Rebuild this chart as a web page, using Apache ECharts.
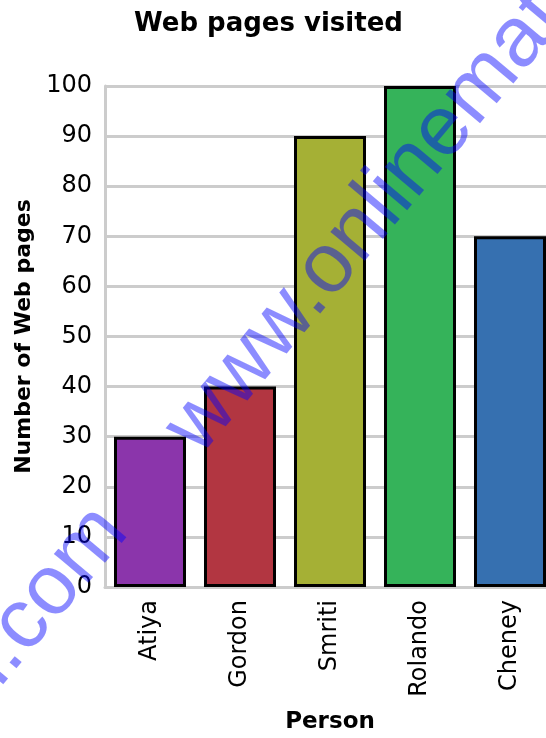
<!DOCTYPE html>
<html>
<head>
<meta charset="utf-8">
<script src="https://cdn.jsdelivr.net/npm/echarts@6/dist/echarts.min.js"></script>
<style>
html,body{margin:0;padding:0;background:#fff;overflow:hidden;}
#chart{width:546px;height:738px;}
</style>
</head>
<body>
<div id="chart"></div>
<script>
const titleText = 'Web pages visited';
const xAxisName = 'Person';
const yAxisName = 'Number of Web pages';
const persons = ['Atiya', 'Gordon', 'Smriti', 'Rolando', 'Cheney'];
const pagesVisited = [30, 40, 90, 100, 70];
const barColors = ['#8B35AB', '#B23641', '#A5B035', '#35B35A', '#3670B0'];
const watermark = 'www.onlinemathlearn.com';

const chart = echarts.init(document.getElementById('chart'), null, {renderer: 'canvas'});
const FONT = 'DejaVu Sans';
const ang = 50 * Math.PI / 180;
const wmStyle = {font: '85px "Liberation Sans"', fill: 'rgba(0,0,255,0.45)', verticalAlign: 'middle'};

chart.setOption({
  backgroundColor: '#ffffff',
  animation: false,
  title: {
    text: titleText,
    left: 129, top: 6,
    textStyle: {fontFamily: FONT, fontSize: 26, fontWeight: 'bold', color: '#000'}
  },
  grid: {left: 105, right: -9, top: 86, bottom: 151, containLabel: false, outerBoundsMode: 'none'},
  xAxis: {
    type: 'category',
    data: persons,
    name: xAxisName,
    nameLocation: 'middle',
    nameGap: 124,
    nameTextStyle: {fontFamily: FONT, fontSize: 23, fontWeight: 'bold', color: '#000'},
    axisLine: {show: true, lineStyle: {color: '#cccccc', width: 3}},
    axisTick: {show: false},
    axisLabel: {rotate: 90, margin: 13, fontFamily: FONT, fontSize: 24, color: '#000'},
    splitLine: {show: false}
  },
  yAxis: {
    type: 'value',
    min: 0, max: 100, interval: 10,
    name: yAxisName,
    nameLocation: 'middle',
    nameGap: 69,
    nameTextStyle: {fontFamily: FONT, fontSize: 22, fontWeight: 'bold', color: '#000'},
    axisLine: {show: true, lineStyle: {color: '#cccccc', width: 3}},
    axisTick: {show: false},
    axisLabel: {margin: 13, fontFamily: FONT, fontSize: 24, color: '#000'},
    splitLine: {show: true, lineStyle: {color: '#cccccc', width: 3}}
  },
  series: [{
    type: 'bar',
    data: pagesVisited.map((v, i) => ({value: v, itemStyle: {color: barColors[i]}})),
    barWidth: 72,
    itemStyle: {borderColor: '#000', borderWidth: 3}
  }],
  graphic: [
    {
      type: 'text', silent: true, z: 100,
      x: 112, y: 518, rotation: ang,
      style: Object.assign({text: watermark, align: 'right'}, wmStyle)
    },
    {
      type: 'text', silent: true, z: 100,
      x: 182, y: 442, rotation: ang,
      style: Object.assign({text: watermark, align: 'left'}, wmStyle)
    }
  ]
});
</script>
</body>
</html>
